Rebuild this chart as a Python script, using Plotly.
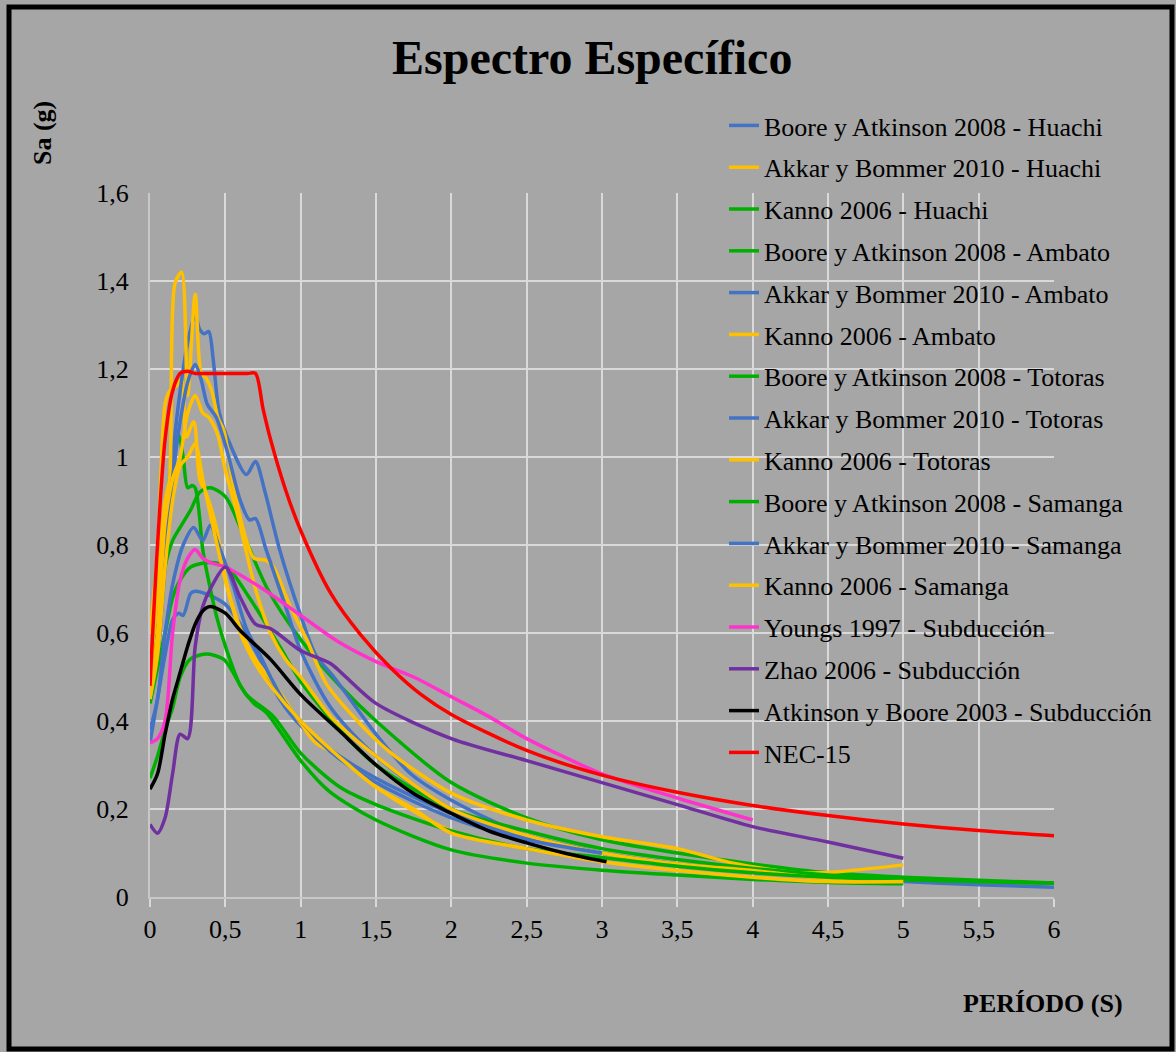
import plotly.graph_objects as go

# ---------------- data ----------------
T_ba_huachi = [0, 0.05, 0.1, 0.15, 0.19, 0.22, 0.27, 0.3, 0.4, 0.5, 0.6, 0.73, 0.86, 1.0, 1.26, 1.5, 2.0, 2.5, 3.0, 3.5, 4.0, 4.5, 5.0, 5.5, 6.0]
SA_ba_huachi = [0.35, 0.45, 0.55, 0.63, 0.645, 0.64, 0.69, 0.695, 0.685, 0.665, 0.62, 0.54, 0.45, 0.39, 0.32, 0.27, 0.19, 0.135, 0.1, 0.075, 0.06, 0.045, 0.035, 0.028, 0.022]

T_ab_huachi = [0, 0.05, 0.1, 0.13, 0.17, 0.21, 0.24, 0.29, 0.33, 0.38, 0.44, 0.51, 0.6, 0.69, 0.82, 1.0, 1.1, 1.22, 1.5, 2.0, 2.5, 3.0]
SA_ab_huachi = [0.6, 0.78, 1.12, 1.15, 1.16, 1.175, 1.045, 1.08, 0.95, 0.91, 0.84, 0.71, 0.61, 0.545, 0.485, 0.395, 0.35, 0.327, 0.25, 0.15, 0.11, 0.085]

T_k_huachi = [0, 0.05, 0.1, 0.13, 0.17, 0.19, 0.22, 0.25, 0.28, 0.3, 0.33, 0.35, 0.44, 0.51, 0.6, 0.69, 0.77, 1.0, 1.19, 1.5, 2.0, 2.5, 3.0, 3.5, 4.0, 4.5, 5.0]
SA_k_huachi = [0.5, 0.6, 0.8, 0.95, 1.04, 1.05, 1.0, 0.93, 0.935, 0.93, 0.86, 0.79, 0.64, 0.56, 0.48, 0.44, 0.42, 0.31, 0.24, 0.175, 0.107, 0.077, 0.061, 0.05, 0.04, 0.033, 0.03]

T_ba_ambato = [0, 0.05, 0.1, 0.15, 0.2, 0.27, 0.33, 0.4, 0.5, 0.6, 0.78, 1.0, 1.26, 1.5, 2.0, 2.5, 3.0, 3.5, 4.0, 4.5, 5.0, 5.5, 6.0]
SA_ba_ambato = [0.47, 0.6, 0.75, 0.81, 0.84, 0.88, 0.92, 0.93, 0.91, 0.84, 0.7, 0.585, 0.48, 0.4, 0.26, 0.18, 0.13, 0.1, 0.075, 0.055, 0.045, 0.038, 0.032]

T_ab_ambato = [0, 0.05, 0.1, 0.15, 0.2, 0.25, 0.3, 0.33, 0.36, 0.39, 0.42, 0.46, 0.53, 0.64, 0.7, 0.76, 0.86, 1.0, 1.1, 1.22, 1.5, 1.73, 2.0, 2.5, 3.0]
SA_ab_ambato = [0.47, 0.55, 0.8, 1.0, 1.15, 1.26, 1.32, 1.29, 1.28, 1.285, 1.22, 1.1, 1.03, 0.96, 0.99, 0.925, 0.79, 0.64, 0.55, 0.5, 0.37, 0.28, 0.22, 0.14, 0.1]

T_k_ambato = [0, 0.05, 0.1, 0.13, 0.166, 0.21, 0.25, 0.3, 0.34, 0.37, 0.41, 0.45, 0.49, 0.55, 0.64, 0.69, 0.77, 0.82, 0.93, 1.04, 1.17, 1.35, 1.59, 2.0, 2.5, 3.0, 3.5, 3.87, 4.3, 4.55, 5.0]
SA_k_ambato = [0.5, 0.7, 0.9, 0.95, 1.395, 1.42, 1.14, 1.37, 1.19, 1.18, 1.15, 1.09, 1.06, 0.94, 0.81, 0.77, 0.765, 0.75, 0.66, 0.585, 0.485, 0.41, 0.33, 0.236, 0.175, 0.137, 0.11, 0.077, 0.055, 0.057, 0.073]

T_ba_totoras = [0, 0.05, 0.1, 0.15, 0.2, 0.27, 0.4, 0.51, 0.66, 0.86, 1.0, 1.26, 1.5, 2.0, 2.5, 3.0, 3.5, 4.0, 4.5, 5.0, 5.5, 6.0]
SA_ba_totoras = [0.44, 0.52, 0.6, 0.68, 0.72, 0.75, 0.76, 0.75, 0.68, 0.57, 0.49, 0.38, 0.3, 0.2, 0.15, 0.11, 0.085, 0.065, 0.05, 0.04, 0.035, 0.031]

T_ab_totoras = [0, 0.05, 0.1, 0.15, 0.2, 0.25, 0.3, 0.34, 0.38, 0.44, 0.51, 0.6, 0.66, 0.7, 0.77, 0.9, 1.0, 1.2, 1.5, 2.0, 2.5, 3.0]
SA_ab_totoras = [0.45, 0.55, 0.75, 0.95, 1.08, 1.17, 1.21, 1.175, 1.12, 1.09, 1.016, 0.9, 0.857, 0.86, 0.79, 0.66, 0.56, 0.43, 0.32, 0.2, 0.14, 0.1]

T_k_totoras = [0, 0.05, 0.1, 0.15, 0.2, 0.25, 0.3, 0.35, 0.39, 0.45, 0.5, 0.58, 0.7, 0.8, 0.9, 1.0, 1.2, 1.5, 2.0, 2.5, 3.0, 3.5, 4.0, 4.5, 5.0]
SA_k_totoras = [0.45, 0.6, 0.85, 0.95, 1.0, 1.1, 1.14, 1.1, 1.09, 1.05, 0.97, 0.87, 0.7, 0.6, 0.54, 0.5, 0.41, 0.32, 0.2, 0.14, 0.1, 0.075, 0.06, 0.042, 0.035]

T_ba_samanga = [0, 0.05, 0.1, 0.15, 0.2, 0.265, 0.37, 0.49, 0.64, 0.82, 1.0, 1.26, 1.5, 2.0, 2.5, 3.0, 3.5, 4.0, 4.5, 5.0, 5.5, 6.0]
SA_ba_samanga = [0.27, 0.32, 0.38, 0.43, 0.5, 0.54, 0.552, 0.54, 0.46, 0.41, 0.327, 0.25, 0.21, 0.15, 0.11, 0.09, 0.07, 0.055, 0.045, 0.04, 0.035, 0.031]

T_ab_samanga = [0, 0.05, 0.1, 0.15, 0.22, 0.29, 0.35, 0.4, 0.46, 0.55, 0.64, 0.73, 0.8, 0.9, 1.0, 1.2, 1.5, 2.0, 2.5, 3.0]
SA_ab_samanga = [0.38, 0.45, 0.6, 0.71, 0.8, 0.84, 0.81, 0.845, 0.795, 0.71, 0.61, 0.55, 0.5, 0.44, 0.4, 0.33, 0.26, 0.18, 0.13, 0.1]

T_k_samanga = [0, 0.05, 0.1, 0.15, 0.2, 0.25, 0.3, 0.35, 0.4, 0.5, 0.6, 0.7, 0.8, 1.0, 1.25, 1.5, 1.75, 2.0, 2.5, 3.0, 3.5, 4.0, 4.5, 5.0]
SA_k_samanga = [0.45, 0.55, 0.75, 0.9, 0.98, 1.0, 1.03, 0.95, 0.87, 0.72, 0.6, 0.53, 0.48, 0.4, 0.32, 0.25, 0.2, 0.145, 0.11, 0.08, 0.06, 0.045, 0.035, 0.035]

T_youngs = [0, 0.05, 0.1, 0.15, 0.2, 0.25, 0.3, 0.35, 0.4, 0.5, 0.75, 1.0, 1.25, 1.5, 1.75, 2.0, 2.25, 2.5, 3.0, 3.5, 4.0]
SA_youngs = [0.35, 0.36, 0.4, 0.6, 0.72, 0.77, 0.79, 0.77, 0.76, 0.75, 0.7, 0.64, 0.58, 0.535, 0.5, 0.455, 0.41, 0.36, 0.28, 0.225, 0.175]

T_zhao = [0, 0.05, 0.1, 0.15, 0.2, 0.25, 0.3, 0.35, 0.4, 0.5, 0.6, 0.7, 0.8, 1.0, 1.2, 1.3, 1.5, 2.0, 2.5, 3.0, 3.5, 4.0, 4.5, 5.0]
SA_zhao = [0.165, 0.145, 0.18, 0.28, 0.37, 0.36, 0.57, 0.66, 0.7, 0.75, 0.68, 0.62, 0.61, 0.56, 0.53, 0.5, 0.44, 0.36, 0.31, 0.26, 0.21, 0.16, 0.125, 0.088]

T_ab2003 = [0, 0.05, 0.1, 0.15, 0.2, 0.25, 0.3, 0.35, 0.4, 0.5, 0.6, 0.8, 1.0, 1.25, 1.5, 1.75, 2.0, 2.25, 2.5, 2.75, 3.03]
SA_ab2003 = [0.245, 0.28, 0.37, 0.45, 0.51, 0.57, 0.62, 0.65, 0.66, 0.645, 0.605, 0.54, 0.46, 0.38, 0.3, 0.235, 0.19, 0.15, 0.123, 0.1, 0.08]

T_nec = [0, 0.05, 0.1, 0.15, 0.2, 0.25, 0.3, 0.4, 0.5, 0.6, 0.65, 0.7, 0.75, 0.8, 0.9, 1.0, 1.2, 1.4, 1.6, 1.8, 2.0, 2.5, 3.0, 3.5, 4.0, 4.5, 5.0, 5.5, 6.0]
SA_nec = [0.48, 0.8, 1.04, 1.15, 1.19, 1.195, 1.19, 1.19, 1.19, 1.19, 1.19, 1.19, 1.11, 1.04, 0.925, 0.833, 0.69, 0.595, 0.52, 0.46, 0.415, 0.333, 0.277, 0.238, 0.208, 0.185, 0.166, 0.151, 0.139]

X_TICKS = [0, 0.5, 1, 1.5, 2, 2.5, 3, 3.5, 4, 4.5, 5, 5.5, 6]
Y_TICKS = [0, 0.2, 0.4, 0.6, 0.8, 1.0, 1.2, 1.4, 1.6]

BLUE, YELLOW, GREEN = "#4472C4", "#FFC000", "#00B000"
PINK, PURPLE, BLACK, RED = "#FF33CC", "#7030A0", "#000000", "#FF0000"

series = [
    ("Boore y Atkinson 2008 - Huachi", T_ba_huachi, SA_ba_huachi, BLUE),
    ("Akkar y Bommer 2010 - Huachi", T_ab_huachi, SA_ab_huachi, YELLOW),
    ("Kanno 2006 - Huachi", T_k_huachi, SA_k_huachi, GREEN),
    ("Boore y Atkinson 2008 - Ambato", T_ba_ambato, SA_ba_ambato, GREEN),
    ("Akkar y Bommer 2010 - Ambato", T_ab_ambato, SA_ab_ambato, BLUE),
    ("Kanno 2006 - Ambato", T_k_ambato, SA_k_ambato, YELLOW),
    ("Boore y Atkinson 2008 - Totoras", T_ba_totoras, SA_ba_totoras, GREEN),
    ("Akkar y Bommer 2010 - Totoras", T_ab_totoras, SA_ab_totoras, BLUE),
    ("Kanno 2006 - Totoras", T_k_totoras, SA_k_totoras, YELLOW),
    ("Boore y Atkinson 2008 - Samanga", T_ba_samanga, SA_ba_samanga, GREEN),
    ("Akkar y Bommer 2010 - Samanga", T_ab_samanga, SA_ab_samanga, BLUE),
    ("Kanno 2006 - Samanga", T_k_samanga, SA_k_samanga, YELLOW),
    ("Youngs 1997 - Subducción", T_youngs, SA_youngs, PINK),
    ("Zhao 2006 - Subducción", T_zhao, SA_zhao, PURPLE),
    ("Atkinson y Boore 2003 - Subducción", T_ab2003, SA_ab2003, BLACK),
    ("NEC-15", T_nec, SA_nec, RED),
]

FONT = "Times New Roman, Liberation Serif, serif"
BG = "#A6A6A6"
GRID = "#D9D9D9"

fig = go.Figure()
for i, (name, xs, ys, col) in enumerate(series):
    fig.add_trace(go.Scatter(
        x=xs, y=ys, name=name, mode="lines",
        line=dict(color=col, width=3.5, shape="spline", smoothing=0.8),
        legendgroup=f"g{i}",
    ))

W, H = 1176, 1052
L, R, T, B = 150, 122, 193, 155
PW, PH = W - L - R, H - T - B

def px_x(p):
    return (p - L) / PW

def px_y(p):
    return (H - B - p) / PH

fig.update_layout(
    width=W, height=H,
    margin=dict(l=L, r=R, t=T, b=B, pad=0),
    paper_bgcolor=BG, plot_bgcolor=BG,
    separators=",.",
    font=dict(family=FONT, size=26, color="#000000"),
    showlegend=True,
    legend=dict(
        x=px_x(724), y=px_y(102), xanchor="left", yanchor="top",
        bgcolor="rgba(0,0,0,0)", borderwidth=0,
        font=dict(family=FONT, size=26, color="#000000"),
        tracegroupgap=5, traceorder="grouped",
        maxheight=720,
    ),
    xaxis=dict(
        range=[0, 6], tickvals=X_TICKS, showgrid=True, gridcolor=GRID, gridwidth=1.5,
        zeroline=False, showline=True, linecolor="#C8C8C8", linewidth=2,
        ticks="outside", ticklen=8, tickcolor=GRID, tickwidth=1.5,
        tickfont=dict(family=FONT, size=26, color="#000000"),
    ),
    yaxis=dict(
        range=[0, 1.6], tickvals=Y_TICKS, showgrid=True, gridcolor=GRID, gridwidth=1.5,
        zeroline=False, showline=True, linecolor="#C8C8C8", linewidth=2,
        ticks="", ticklabelstandoff=14,
        tickfont=dict(family=FONT, size=26, color="#000000"),
    ),
    annotations=[
        dict(text="<b>Espectro Específico</b>", x=px_x(592), y=px_y(57), xref="paper", yref="paper",
             showarrow=False, xanchor="center", yanchor="middle",
             font=dict(family=FONT, size=48, color="#000000")),
        dict(text="<b>Sa (g)</b>", x=px_x(42), y=px_y(133), xref="paper", yref="paper",
             showarrow=False, xanchor="center", yanchor="middle", textangle=-90,
             font=dict(family=FONT, size=26, color="#000000")),
        dict(text="<b>PERÍODO (S)</b>", x=px_x(1043), y=px_y(1004), xref="paper", yref="paper",
             showarrow=False, xanchor="center", yanchor="middle",
             font=dict(family=FONT, size=26, color="#000000")),
    ],
    shapes=[
        dict(type="rect", xref="paper", yref="paper",
             x0=px_x(9), x1=px_x(1172), y0=px_y(1049), y1=px_y(7),
             line=dict(color="#000000", width=5), fillcolor="rgba(0,0,0,0)", layer="above"),
    ],
)

fig.write_html(
    "out.html",
    config={"displayModeBar": False},
    post_script="document.body.style.margin='0';document.body.style.overflow='hidden';",
)
